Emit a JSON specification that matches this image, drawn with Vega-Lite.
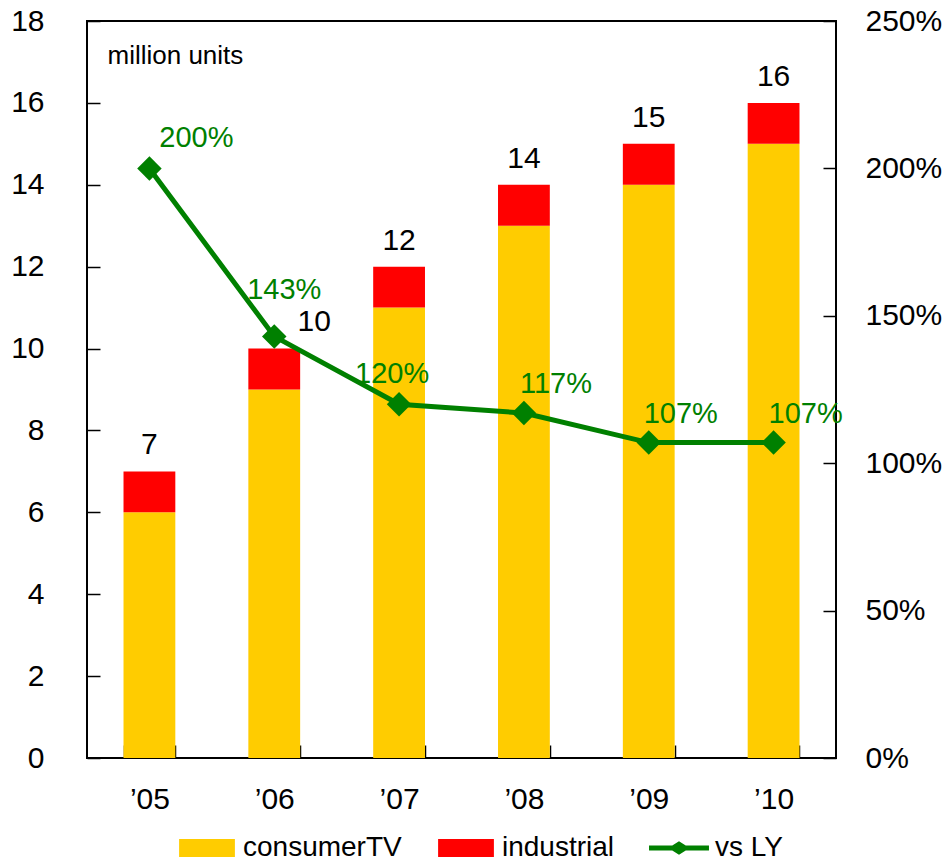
{
  "$schema": "https://vega.github.io/schema/vega-lite/v6.json",
  "width": 749,
  "height": 737,
  "autosize": {"type": "none"},
  "padding": {"left": 87, "top": 21, "right": 108, "bottom": 103},
  "config": {
    "font": "Liberation Sans",
    "view": {"stroke": "#000000", "strokeWidth": 2},
    "axis": {
      "domain": false,
      "grid": false,
      "ticks": true,
      "tickColor": "#000000",
      "tickWidth": 1.5,
      "tickSize": -13,
      "labelFont": "Liberation Sans",
      "labelFontSize": 30,
      "labelColor": "#000000"
    }
  },
  "data": {
    "values": [
      {"year": "’05", "consumerTV": 6, "industrial": 1, "total": 7, "vsLY": 2.00},
      {"year": "’06", "consumerTV": 9, "industrial": 1, "total": 10, "vsLY": 1.43},
      {"year": "’07", "consumerTV": 11, "industrial": 1, "total": 12, "vsLY": 1.20},
      {"year": "’08", "consumerTV": 13, "industrial": 1, "total": 14, "vsLY": 1.17},
      {"year": "’09", "consumerTV": 14, "industrial": 1, "total": 15, "vsLY": 1.07},
      {"year": "’10", "consumerTV": 15, "industrial": 1, "total": 16, "vsLY": 1.07}
    ]
  },
  "encoding": {
    "x": {
      "field": "year",
      "type": "nominal",
      "sort": null,
      "scale": {"paddingInner": 0.585, "paddingOuter": 0.2925},
      "axis": {"title": null, "labelAngle": 0, "tickBand": "extent", "labelPadding": 39}
    }
  },
  "layer": [
    {
      "layer": [
        {
          "transform": [{"fold": ["consumerTV", "industrial"], "as": ["series", "units"]}],
          "mark": {"type": "bar"},
          "encoding": {
            "y": {
              "field": "units",
              "type": "quantitative",
              "stack": "zero",
              "scale": {"domain": [0, 18], "nice": false},
              "axis": {
                "values": [0, 2, 4, 6, 8, 10, 12, 14, 16, 18],
                "labelPadding": 56,
                "title": "million units",
                "titleAngle": 0,
                "titleX": 20,
                "titleY": 34,
                "titleAlign": "left",
                "titleBaseline": "middle",
                "titleFont": "Liberation Sans",
                "titleFontSize": 26,
                "titleFontWeight": "normal",
                "titleColor": "#000000"
              }
            },
            "color": {
              "field": "series",
              "type": "nominal",
              "scale": {
                "domain": ["consumerTV", "industrial", "vs LY"],
                "range": ["#FFCC00", "#FF0000", "#008000"]
              },
              "legend": {
                "title": null,
                "orient": "none",
                "legendX": 87,
                "legendY": 813,
                "direction": "horizontal",
                "columns": 3,
                "padding": 0,
                "symbolSize": 324,
                "symbolStrokeWidth": 0,
                "symbolOffset": 19,
                "labelOffset": 22,
                "columnPadding": 31,
                "labelFont": "Liberation Sans",
                "labelFontSize": 28,
                "labelColor": "#000000",
                "labelLimit": 300,
                "encode": {
                  "symbols": {
                    "update": {
                      "shape": {"signal": "datum.value === 'vs LY' ? 'M-3.33,-0.28H-0.75L0,-0.75L0.75,-0.28H3.33V0.28H0.75L0,0.75L-0.75,0.28H-3.33Z' : 'M-3.1,-1H3.1V1H-3.1Z'"},
                      "fill": {"scale": "color", "field": "value"},
                      "stroke": {"value": "transparent"},
                      "opacity": {"value": 1}
                    }
                  }
                }
              }
            },
            "order": {"field": "series", "sort": "ascending"}
          }
        },
        {
          "transform": [{"filter": {"not": {"field": "year", "equal": "’06"}}}],
          "mark": {"type": "text", "baseline": "middle", "align": "center", "dy": -26, "fontSize": 30, "color": "#000000"},
          "encoding": {
            "y": {"field": "total", "type": "quantitative"},
            "text": {"field": "total", "type": "quantitative"}
          }
        },
        {
          "transform": [{"filter": {"field": "year", "equal": "’06"}}],
          "mark": {"type": "text", "baseline": "middle", "align": "center", "dx": 40, "dy": -27, "fontSize": 30, "color": "#000000"},
          "encoding": {
            "y": {"field": "total", "type": "quantitative"},
            "text": {"field": "total", "type": "quantitative"}
          }
        }
      ]
    },
    {
      "layer": [
        {
          "mark": {"type": "line", "strokeWidth": 5},
          "encoding": {
            "y": {
              "field": "vsLY",
              "type": "quantitative",
              "scale": {"domain": [0, 2.5], "nice": false},
              "axis": {
                "orient": "right",
                "values": [0, 0.5, 1, 1.5, 2, 2.5],
                "format": ".0%",
                "labelAlign": "left",
                "labelPadding": 42,
                "title": null
              }
            },
            "color": {"datum": "vs LY"}
          }
        },
        {
          "mark": {"type": "point", "shape": "diamond", "size": 600, "filled": true, "opacity": 1, "color": "#008000"},
          "encoding": {
            "y": {"field": "vsLY", "type": "quantitative"}
          }
        },
        {
          "transform": [{"filter": {"field": "year", "equal": "’05"}}],
          "mark": {"type": "text", "baseline": "middle", "align": "center", "dx": 47, "dy": -30, "fontSize": 29, "color": "#008000"},
          "encoding": {
            "y": {"field": "vsLY", "type": "quantitative"},
            "text": {"field": "vsLY", "type": "quantitative", "format": ".0%"}
          }
        },
        {
          "transform": [{"filter": {"field": "year", "equal": "’06"}}],
          "mark": {"type": "text", "baseline": "middle", "align": "center", "dx": 10, "dy": -46, "fontSize": 29, "color": "#008000"},
          "encoding": {
            "y": {"field": "vsLY", "type": "quantitative"},
            "text": {"field": "vsLY", "type": "quantitative", "format": ".0%"}
          }
        },
        {
          "transform": [{"filter": {"field": "year", "equal": "’07"}}],
          "mark": {"type": "text", "baseline": "middle", "align": "center", "dx": -7, "dy": -30, "fontSize": 29, "color": "#008000"},
          "encoding": {
            "y": {"field": "vsLY", "type": "quantitative"},
            "text": {"field": "vsLY", "type": "quantitative", "format": ".0%"}
          }
        },
        {
          "transform": [{"filter": {"field": "year", "oneOf": ["’08", "’09", "’10"]}}],
          "mark": {"type": "text", "baseline": "middle", "align": "center", "dx": 32, "dy": -29, "fontSize": 29, "color": "#008000"},
          "encoding": {
            "y": {"field": "vsLY", "type": "quantitative"},
            "text": {"field": "vsLY", "type": "quantitative", "format": ".0%"}
          }
        }
      ]
    }
  ],
  "resolve": {"scale": {"y": "independent"}}
}
